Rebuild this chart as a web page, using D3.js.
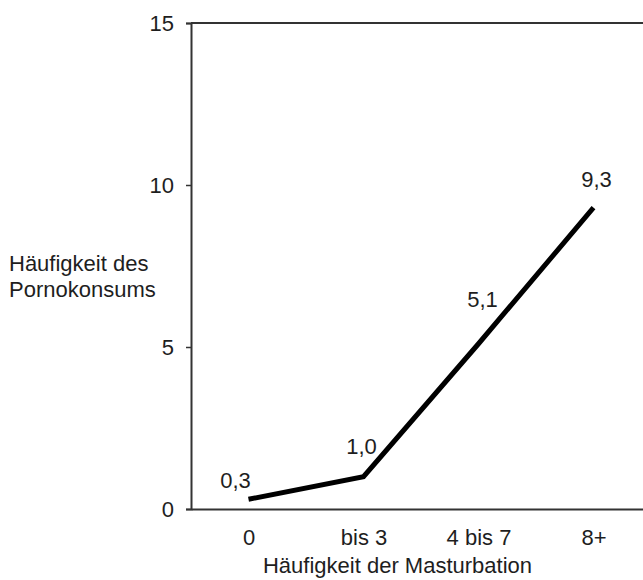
<!DOCTYPE html>
<html>
<head>
<meta charset="utf-8">
<script src="https://cdn.jsdelivr.net/npm/d3@7"></script>
<style>
  body { margin: 0; background: #fff; }
  svg { font-family: "Liberation Sans", Arial, sans-serif; }
</style>
</head>
<body>
<div id="chart"></div>
<script>
// Häufigkeit der Masturbation vs. Häufigkeit des Pornokonsums
const categories = ["0", "bis 3", "4 bis 7", "8+"];
const values = [0.3, 1.0, 5.1, 9.3];
const valueLabels = ["0,3", "1,0", "5,1", "9,3"];
const yTicks = [0, 5, 10, 15];

const width = 643;
const height = 580;
const margin = { top: 23, left: 191, bottom: 71, right: -8 };
const iwidth = width - margin.left - margin.right;
const iheight = height - margin.top - margin.bottom;
const fontSize = 22;
const ink = "#1e1e1e";

// label nudges relative to each point
const labelDx = [-13, -2, 4, 3];
const labelDy = [-11, -23, -37, -21];

const svg = d3.select("#chart").append("svg")
  .attr("width", width)
  .attr("height", height);

const g = svg.append("g")
  .attr("transform", `translate(${margin.left},${margin.top})`);

const x = d3.scalePoint()
  .domain(categories)
  .range([0, iwidth])
  .padding(0.5);

const y = d3.scaleLinear()
  .domain([0, 15])
  .range([iheight, 0]);

// top border of the plot area
g.append("line")
  .attr("x1", 0).attr("x2", iwidth)
  .attr("y1", y(15)).attr("y2", y(15))
  .attr("stroke", "#333").attr("stroke-width", 2);

// y axis
const yAxis = g.append("g")
  .call(d3.axisLeft(y).tickValues(yTicks).tickSize(5).tickPadding(12));
yAxis.select(".domain").attr("stroke", "#333").attr("stroke-width", 2);
yAxis.selectAll(".tick line").attr("stroke", "#333").attr("stroke-width", 1.5);
yAxis.selectAll(".tick text")
  .attr("font-size", fontSize)
  .attr("font-family", "Liberation Sans, Arial, sans-serif")
  .attr("fill", ink);

// x axis
const xAxis = g.append("g")
  .attr("transform", `translate(0,${iheight})`)
  .call(d3.axisBottom(x).tickSize(0).tickPadding(20));
xAxis.select(".domain").attr("stroke", "#333").attr("stroke-width", 2);
xAxis.selectAll(".tick text")
  .attr("font-size", fontSize)
  .attr("font-family", "Liberation Sans, Arial, sans-serif")
  .attr("fill", ink);

// the line
const line = d3.line()
  .x((d, i) => x(categories[i]))
  .y(d => y(d));

g.append("path")
  .datum(values)
  .attr("fill", "none")
  .attr("stroke", "#000")
  .attr("stroke-width", 5)
  .attr("stroke-linejoin", "miter")
  .attr("d", line);

// value labels
g.selectAll(".vlabel")
  .data(values)
  .enter()
  .append("text")
  .attr("class", "vlabel")
  .attr("x", (d, i) => x(categories[i]) + labelDx[i])
  .attr("y", (d, i) => y(d) + labelDy[i])
  .attr("text-anchor", "middle")
  .attr("font-size", fontSize)
  .attr("fill", ink)
  .text((d, i) => valueLabels[i]);

// axis titles
svg.append("text")
  .attr("x", margin.left + x("bis 3") + 34)
  .attr("y", 573)
  .attr("text-anchor", "middle")
  .attr("font-size", fontSize)
  .attr("fill", ink)
  .text("Häufigkeit der Masturbation");

const yTitle = svg.append("text")
  .attr("x", 9)
  .attr("y", 271)
  .attr("font-size", fontSize)
  .attr("fill", ink);
yTitle.append("tspan").attr("x", 9).text("Häufigkeit des");
yTitle.append("tspan").attr("x", 9).attr("dy", 26).text("Pornokonsums");
</script>
</body>
</html>
